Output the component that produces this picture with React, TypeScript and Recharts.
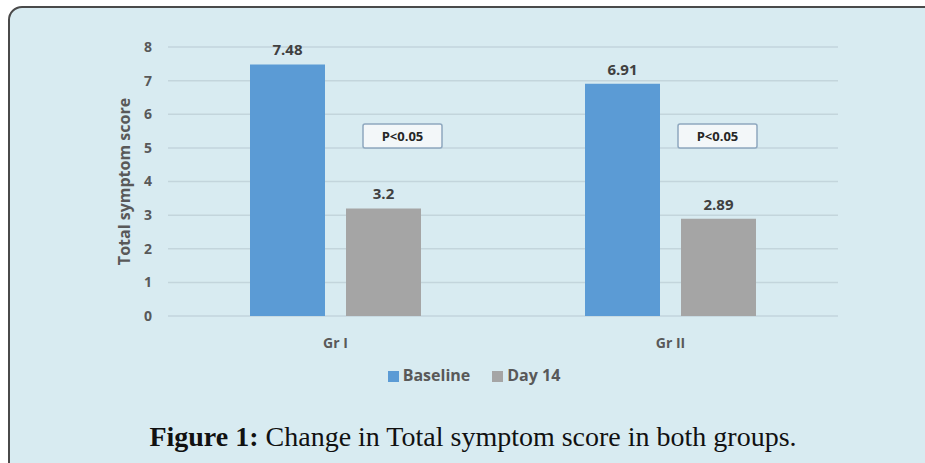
import React from 'react';
import { BarChart, Bar, XAxis, YAxis, CartesianGrid, Legend, LabelList } from 'recharts';

const groups = ['Gr I', 'Gr II'];
const baseline = [7.48, 6.91];
const day14 = [3.2, 2.89];
const pLabels = ['P<0.05', 'P<0.05'];
const pLevel = [5.35, 5.35];
const yTicks = [0, 1, 2, 3, 4, 5, 6, 7, 8];

const data = groups.map((g, i) => ({
  group: g,
  Baseline: baseline[i],
  'Day 14': day14[i],
  p: pLabels[i],
  pLevel: pLevel[i],
}));

const PBox = (props: any) => {
  const { x, y, width, height, value, index } = props;
  const perUnit = height / value;
  const bottom = y + height;
  const cy = bottom - data[index].pLevel * perUnit;
  const cx = x + width / 2 + (index === 0 ? 19 : -1);
  const w = 79;
  const h = 24;
  return (
    <g>
      <rect x={cx - w / 2} y={cy - h / 2} width={w} height={h} fill="#f3f7f9" stroke="#8ea8bf" strokeWidth={1.5} rx={2} />
      <text x={cx} y={cy} textAnchor="middle" dominantBaseline="central" fontSize={13} fontWeight="bold" fill="#262626" fontFamily="'Open Sans', sans-serif">
        {data[index].p}
      </text>
    </g>
  );
};

const font = "'Open Sans', 'Noto Sans', sans-serif";

export default function App() {
  return (
    <div style={{ position: 'relative', width: 925, height: 463, overflow: 'hidden', background: '#ffffff' }}>
      <style>{`body{margin:0;overflow:hidden}`}</style>
      <div
        style={{
          position: 'absolute',
          left: 8,
          top: 6,
          width: 960,
          height: 480,
          border: '2px solid #4a4a4a',
          borderRadius: 14,
          background: '#d8ebf1',
          boxSizing: 'border-box',
        }}
      />
      <div style={{ position: 'absolute', left: 0, top: 0 }}>
        <BarChart
          width={925}
          height={463}
          data={data}
          margin={{ top: 47, right: 87, left: 100, bottom: 95 }}
          barSize={75}
          barGap={21}
        >
          <CartesianGrid vertical={false} stroke="#c3d5dc" strokeWidth={1.5} />
          <XAxis
            dataKey="group"
            axisLine={false}
            tickLine={false}
            tickSize={0}
            tickMargin={22}
            height={30}
            tick={{ fill: '#595959', fontSize: 14, fontWeight: 'bold', fontFamily: font }}
          />
          <YAxis
            domain={[0, 8]}
            ticks={yTicks}
            axisLine={false}
            tickLine={false}
            tickSize={0}
            tickMargin={16}
            width={68}
            tick={{ fill: '#595959', fontSize: 14, fontWeight: 'bold', fontFamily: font }}
            label={{
              value: 'Total symptom score',
              angle: -90,
              position: 'insideLeft',
              dx: 19,
              style: { textAnchor: 'middle', fill: '#595959', fontSize: 16, fontWeight: 'bold', fontFamily: font },
            }}
          />
          <Legend
            iconType="square"
            iconSize={11}
            wrapperStyle={{ position: 'absolute', top: 364, left: 329, width: 300, height: 22, fontFamily: font, fontSize: 16, fontWeight: 'bold' }}
            formatter={(v: any, _e: any, i: number) => (
              <span style={{ color: '#595959', marginRight: i === 0 ? 12 : 0 }}>{v}</span>
            )}
          />
          <Bar dataKey="Baseline" fill="#5b9bd5" isAnimationActive={false}>
            <LabelList dataKey="Baseline" position="top" offset={9} fill="#404040" fontSize={15} fontWeight="bold" fontFamily={font} />
          </Bar>
          <Bar dataKey="Day 14" fill="#a5a5a5" isAnimationActive={false}>
            <LabelList dataKey="Day 14" position="top" offset={9} fill="#404040" fontSize={15} fontWeight="bold" fontFamily={font} />
            <LabelList dataKey="Day 14" content={PBox} />
          </Bar>
        </BarChart>
      </div>
      <div
        style={{
          position: 'absolute',
          left: 0,
          width: 946,
          top: 421,
          textAlign: 'center',
          fontFamily: "'Liberation Serif', 'Times New Roman', serif",
          fontSize: 28,
          color: '#111',
          whiteSpace: 'nowrap',
        }}
      >
        <b>Figure 1:</b> Change in Total symptom score in both groups.
      </div>
    </div>
  );
}
